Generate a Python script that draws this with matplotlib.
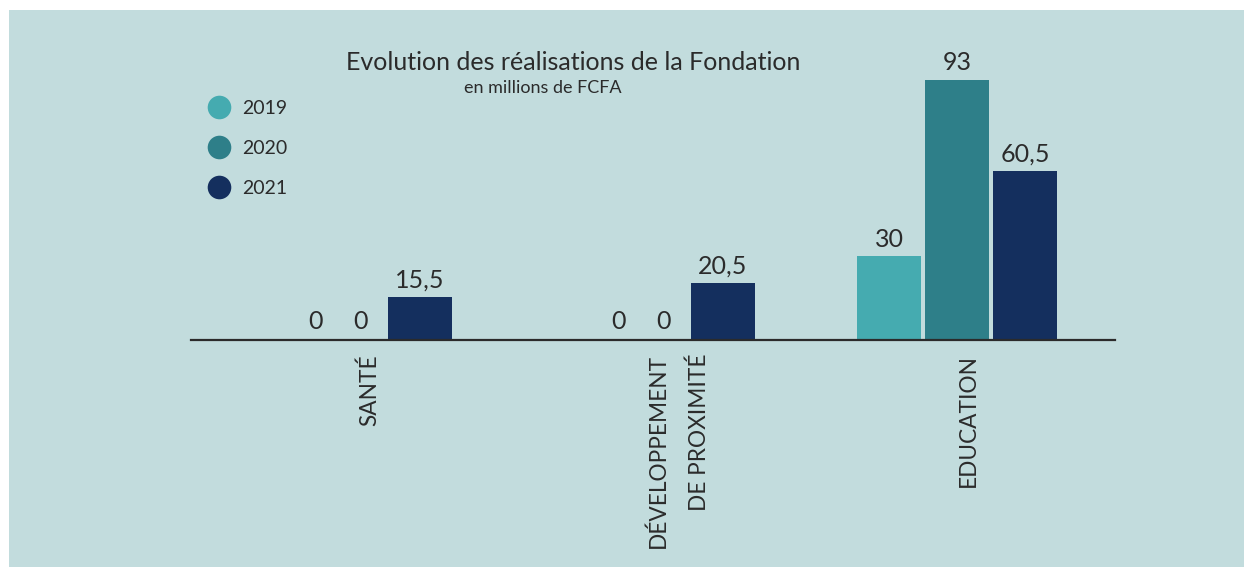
import matplotlib.pyplot as plt
from matplotlib.lines import Line2D
from matplotlib.patches import Rectangle
import numpy as np

plt.rcParams['font.family'] = ['Lato', 'DejaVu Sans']

# données
categories = ["SANTÉ", "DÉVELOPPEMENT\nDE PROXIMITÉ", "EDUCATION"]
annees = ["2019", "2020", "2021"]
v2019 = [0, 0, 30]
v2020 = [0, 0, 93]
v2021 = [15.5, 20.5, 60.5]
labels_2019 = ["0", "0", "30"]
labels_2020 = ["0", "0", "93"]
labels_2021 = ["15,5", "20,5", "60,5"]

couleurs = ["#45abb0", "#2e7f89", "#142f5e"]
fond = "#c2dcdd"
texte = "#2b2b2b"

W, H = 1244, 567
fig = plt.figure(figsize=(W / 100, H / 100), dpi=100)
fig.patch.set_facecolor("white")
# panneau de fond
fig.add_artist(Rectangle((9 / W, 0), 1, 1 - 10 / H, transform=fig.transFigure,
                         facecolor=fond, edgecolor="none", zorder=-10))

ax = fig.add_axes([191 / W, (H - 340) / H, (1115 - 191) / W, 260 / H])
ax.set_facecolor("none")

x = np.arange(len(categories))
largeur = 64 / 302.5
pas = 68 / 302.5

series = [v2019, v2020, v2021]
etiquettes = [labels_2019, labels_2020, labels_2021]
for i, (vals, labs) in enumerate(zip(series, etiquettes)):
    pos = x + (i - 1) * pas
    ax.bar(pos, vals, width=largeur, color=couleurs[i], label=annees[i])
    for p, v, l in zip(pos, vals, labs):
        if v == 0:
            # les zéros sont décalés vers la droite dans l'original
            dx = 0.5 * largeur if i == 0 else 0.14 * largeur
            ax.annotate(l, (p + dx, 0), xytext=(0, 5), textcoords="offset points",
                        ha="center", va="bottom", fontsize=18, color=texte)
        else:
            ax.annotate(l, (p, v), xytext=(0, 4), textcoords="offset points",
                        ha="center", va="bottom", fontsize=18, color=texte)

ax.set_xlim(-0.532, 2.522)
ax.set_ylim(0, 93)
for s in ax.spines.values():
    s.set_visible(False)
ax.set_xticks([])
ax.set_yticks([])
ax.axhline(0, color=texte, lw=1.6, clip_on=False)

# étiquettes des catégories (verticales)
decalages = [18, 24, 11]  # px
for xi, c, d in zip(x, categories, decalages):
    ax.annotate(c, (xi, 0), xytext=(d * 0.72, -10), textcoords="offset points",
                rotation=90, ha="center", va="top", multialignment="right",
                fontsize=16.3, color=texte, linespacing=2.15)

# titre
fig.text(573 / W, 1 - 62 / H, "Evolution des réalisations de la Fondation",
         ha="center", va="center", fontsize=18, color=texte)
fig.text(543 / W, 1 - 88 / H, "en millions de FCFA",
         ha="center", va="center", fontsize=13, color=texte)

# légende
poignees = [Line2D([], [], marker="o", linestyle="none", markersize=17,
                   markerfacecolor=c, markeredgecolor="none") for c in couleurs]
fig.legend(poignees, annees, loc="upper left", bbox_to_anchor=(200 / W, 1 - 100 / H),
           frameon=False, fontsize=14, labelspacing=1.17, handletextpad=0.15,
           borderpad=0, borderaxespad=0, labelcolor=texte)

plt.savefig("out.png", dpi=100, facecolor="white")
